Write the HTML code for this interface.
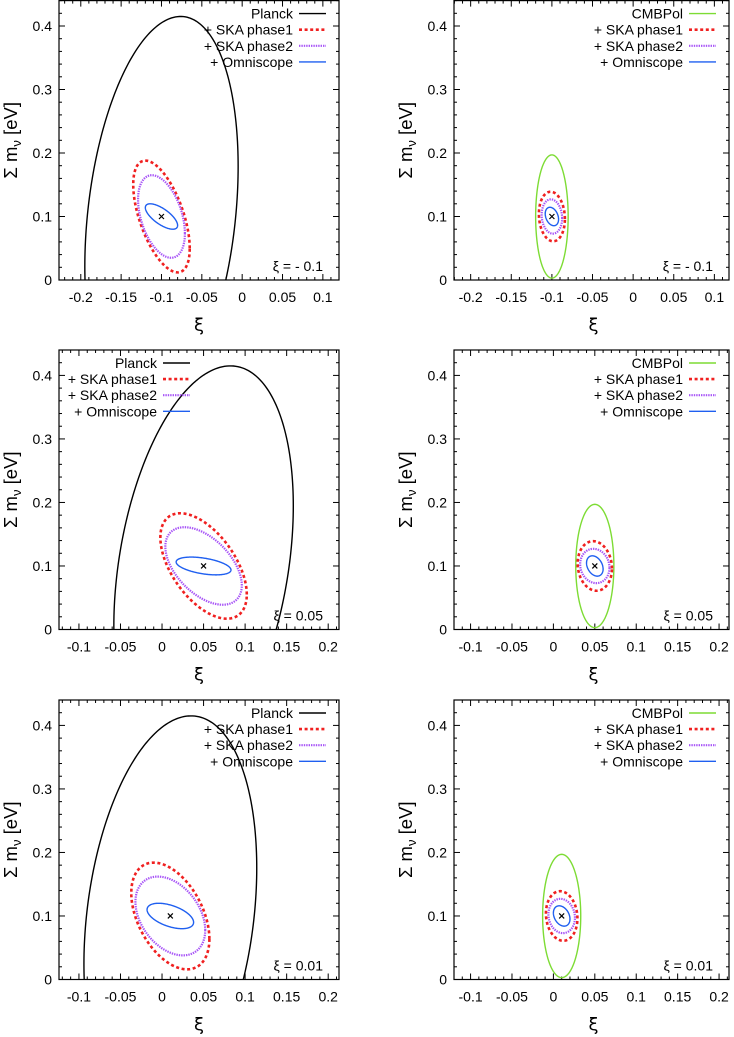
<!DOCTYPE html>
<html><head><meta charset="utf-8">
<style>
html,body{margin:0;padding:0;background:#fff;overflow:hidden;width:734px;height:1037px;}
svg{display:block;font-family:"Liberation Sans","DejaVu Sans",sans-serif;}
</style></head>
<body>
<svg id="fig" width="734" height="1037" viewBox="0 0 734 1037"></svg>
<script>
// ---- data ----
const panelXi = [-0.1, -0.1, 0.05, 0.05, 0.01, 0.01];
const panelCenterY = [0.1, 0.1, 0.1, 0.1, 0.1, 0.1];
const panelBaseLabel = ["Planck", "CMBPol", "Planck", "CMBPol", "Planck", "CMBPol"];
const panelXDomain = [[-0.227, 0.12], [-0.2205, 0.118], [-0.124, 0.213], [-0.12, 0.212], [-0.124, 0.213], [-0.12, 0.212]];
const yDomain = [0, 0.44];
const xTicksTop = [-0.2, -0.15, -0.1, -0.05, 0, 0.05, 0.1];
const xTicksOther = [-0.1, -0.05, 0, 0.05, 0.1, 0.15, 0.2];
const yTicks = [0, 0.1, 0.2, 0.3, 0.4];
// ellipse params per panel: [sx, sy, rho] (x half-extent, y half-extent, correlation)
const baseEllipse = [[0.095, 0.315, 0.25], [0.02, 0.097, 0.0], [0.108, 0.315, 0.3], [0.023, 0.097, 0.0], [0.104, 0.315, 0.24], [0.023, 0.097, 0.0]];
const ska1Ellipse = [[0.035, 0.088, -0.57], [0.016, 0.039, -0.1], [0.052, 0.083, -0.54], [0.0207, 0.039, -0.1], [0.047, 0.084, -0.43], [0.019, 0.039, -0.1]];
const ska2Ellipse = [[0.029, 0.065, -0.41], [0.0126, 0.027, -0.1], [0.046, 0.061, -0.5], [0.0177, 0.027, -0.1], [0.042, 0.062, -0.36], [0.016, 0.027, -0.1]];
const omniEllipse = [[0.02, 0.02, -0.7], [0.0082, 0.0145, -0.3], [0.033, 0.014, -0.45], [0.010, 0.016, -0.3], [0.028, 0.02, -0.5], [0.010, 0.016, -0.3]];

const NS = "http://www.w3.org/2000/svg";
const svg = document.getElementById("fig");
function mk(tag, attrs, parent) {
  const e = document.createElementNS(NS, tag);
  for (const k in attrs) e.setAttribute(k, attrs[k]);
  (parent || svg).appendChild(e);
  return e;
}
function fmt(v) {
  if (Math.abs(v) < 1e-9) return "0";
  return (+v.toFixed(2)).toString();
}
const boxes = [
  {x0: 59, x1: 339, y0: 280, y1: 0.6},
  {x0: 454, x1: 729, y0: 280, y1: 0.6},
  {x0: 59, x1: 339, y0: 629.5, y1: 350},
  {x0: 454, x1: 729, y0: 629.5, y1: 350},
  {x0: 59, x1: 339, y0: 979.5, y1: 700},
  {x0: 454, x1: 729, y0: 979.5, y1: 700}
];
const seriesStyle = {
  planck: {stroke: "#000", width: 1.4, dash: ""},
  cmbpol: {stroke: "#7ddc34", width: 1.4, dash: ""},
  ska1: {stroke: "#f02020", width: 2.6, dash: "3,2.6"},
  ska2: {stroke: "#a855f7", width: 2.2, dash: "1.4,1"},
  omni: {stroke: "#1f5ff0", width: 1.4, dash: ""}
};

for (let p = 0; p < 6; p++) {
  const b = boxes[p];
  const dom = panelXDomain[p];
  const xs = v => b.x0 + (v - dom[0]) / (dom[1] - dom[0]) * (b.x1 - b.x0);
  const ys = v => b.y0 - (v - yDomain[0]) / (yDomain[1] - yDomain[0]) * (b.y0 - b.y1);
  const g = mk("g", {});
  
  

  const clipId = "clip" + p;
  const cp = mk("clipPath", {id: clipId}, g);
  mk("rect", {x: b.x0, y: b.y1, width: b.x1 - b.x0, height: b.y0 - b.y1}, cp);

  const tg = mk("g", {stroke: "#000", "stroke-width": 1}, g);
  
  
  for (let v = Math.ceil(dom[0] * 100); v <= Math.floor(dom[1] * 100); v++) {
    const major = v % 5 === 0;
    const L = major ? 6 : 3;
    const X = xs(v / 100);
    mk("line", {x1: X, x2: X, y1: b.y0, y2: b.y0 - L}, tg);
    mk("line", {x1: X, x2: X, y1: b.y1, y2: b.y1 + L}, tg);
  }
  for (let v = 0; v <= 44; v += 2) {
    const major = v % 10 === 0;
    const L = major ? 6 : 3;
    const Y = ys(v / 100);
    mk("line", {x1: b.x0, x2: b.x0 + L, y1: Y, y2: Y}, tg);
    mk("line", {x1: b.x1, x2: b.x1 - L, y1: Y, y2: Y}, tg);
  }

  const xt = p < 2 ? xTicksTop : xTicksOther;
  xt.forEach(v => {
    const t = mk("text", {x: xs(v), y: b.y0 + 22, "font-size": 14, "text-anchor": "middle"}, g);
    t.textContent = fmt(v);
    
    
  });
  yTicks.forEach(v => {
    const t = mk("text", {x: b.x0 - 7, y: ys(v) + 5, "font-size": 14, "text-anchor": "end"}, g);
    t.textContent = fmt(v);
    
    
  });

  const xl = mk("text", {x: (b.x0 + b.x1) / 2 + (p % 2 ? 2 : 0), y: b.y0 + 51, "font-size": 18, "text-anchor": "middle", "font-family": "DejaVu Sans, sans-serif"}, g);
  xl.textContent = "ξ";
  
  
  const cy = (b.y0 + b.y1) / 2;
  const ylx = b.x0 - 42;
  const yl = mk("text", {x: ylx, y: cy, "font-size": 18.5, "text-anchor": "middle", transform: "rotate(-90 " + ylx + " " + cy + ")"}, g);
  yl.innerHTML = 'Σ m<tspan font-size="13" dy="4">ν</tspan><tspan dy="-4"> [eV]</tspan>';
  
  

  const cg = mk("g", {"clip-path": "url(#" + clipId + ")", fill: "none"}, g);
  function ellipse(par, style, name) {
    const [sx, sy, rho] = par;
    const s = Math.sqrt(1 - rho * rho);
    let d = "";
    for (let i = 0; i <= 240; i++) {
      const t = i / 240 * Math.PI * 2;
      const X = xs(panelXi[p] + sx * Math.cos(t));
      const Y = ys(panelCenterY[p] + sy * (rho * Math.cos(t) + s * Math.sin(t)));
      d += (i ? "L" : "M") + X.toFixed(2) + "," + Y.toFixed(2);
    }
    const e = mk("path", {d: d + "Z", stroke: style.stroke, "stroke-width": style.width, "stroke-dasharray": style.dash}, cg);
    
    
  }
  const baseStyle = p % 2 ? seriesStyle.cmbpol : seriesStyle.planck;
  ellipse(baseEllipse[p], baseStyle, p % 2 ? 'cmbpol-contour' : 'planck-contour');
  ellipse(ska1Ellipse[p], seriesStyle.ska1, 'ska-phase1-contour');
  ellipse(ska2Ellipse[p], seriesStyle.ska2, 'ska-phase2-contour');
  ellipse(omniEllipse[p], seriesStyle.omni, 'omniscope-contour');

  const fx = xs(panelXi[p]), fy = ys(panelCenterY[p]);
  const fm = mk("path", {d: `M${fx-2.5},${fy-2.5}L${fx+2.5},${fy+2.5}M${fx-2.5},${fy+2.5}L${fx+2.5},${fy-2.5}`, stroke: "#000", "stroke-width": 1.2}, g);
  
  

  const fr = mk("rect", {x: b.x0, y: b.y1, width: b.x1 - b.x0, height: b.y0 - b.y1, fill: "none", stroke: "#000", "stroke-width": 1.2}, g);
  
  

  const labels = [panelBaseLabel[p], "+ SKA phase1", "+ SKA phase2", "+ Omniscope"];
  const styles = [baseStyle, seriesStyle.ska1, seriesStyle.ska2, seriesStyle.omni];
  const legLeft = (p === 2);
  const textEnd = legLeft ? 157 : b.x1 - 46;
  const lg = mk("g", {}, g);
  
  
  labels.forEach((lab, i) => {
    const Y = b.y1 + 13 + i * 16.1;
    const t = mk("text", {x: textEnd, y: Y + 5, "font-size": 14, "text-anchor": "end"}, lg);
    t.textContent = lab;
    
    
    const st = styles[i];
    const l = mk("line", {x1: textEnd + 6, x2: textEnd + 33, y1: Y, y2: Y, stroke: st.stroke, "stroke-width": st.width, "stroke-dasharray": st.dash}, lg);
    
    
  });

  const an = mk("text", {x: b.x1 - 16, y: b.y0 - 9, "font-size": 14, "text-anchor": "end"}, g);
  an.textContent = "ξ = " + (panelXi[p] < 0 ? "- " + fmt(-panelXi[p]) : fmt(panelXi[p]));
  
  
}
</script>
</body></html>
